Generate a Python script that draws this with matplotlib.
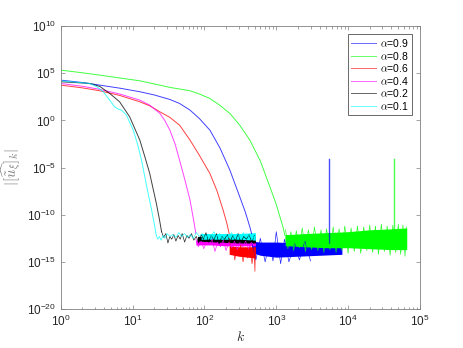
import matplotlib
matplotlib.use('Agg')
import matplotlib.pyplot as plt
import numpy as np

plt.rcParams['font.family'] = ['Liberation Sans', 'DejaVu Sans']
plt.rcParams['mathtext.fontset'] = 'cm'

labels = [r'$\alpha$=0.9', r'$\alpha$=0.8', r'$\alpha$=0.6', r'$\alpha$=0.4', r'$\alpha$=0.2', r'$\alpha$=0.1']
colors = ['#0000ff', '#00ff00', '#ff0000', '#ff00ff', '#000000', '#00ffff']

# smooth decay part: k and log10|u_k|
k_09 = [1, 2, 3.5, 6.6, 12.6, 20, 33, 45, 63, 85, 119, 164, 226, 300, 370, 429, 453]
v_09 = [4.27, 4.02, 3.74, 3.42, 3.04, 2.7, 2.22, 1.80, 1.09, 0.2, -1.03, -2.9, -5.27, -7.8, -9.7, -11.3, -12.0]
k_08 = [1, 2, 3.5, 6.6, 12.6, 22, 33, 45, 63, 85, 119, 164, 226, 310, 429, 600, 815, 1000, 1123, 1240, 1320]
v_08 = [5.33, 5.05, 4.8, 4.5, 4.2, 3.8, 3.5, 3.33, 3.14, 2.8, 2.33, 1.6, 0.74, -0.5, -2.09, -4.3, -7.04, -8.9, -10.2, -11.3, -12.2]
k_06 = [1, 2, 3.5, 6.6, 12.6, 17.3, 24, 33, 45, 63, 85, 119, 150, 182, 205, 221]
v_06 = [3.74, 3.45, 3.14, 2.65, 1.97, 1.55, 0.91, 0.32, -0.5, -2.09, -3.7, -5.62, -7.5, -9.51, -10.9, -12.0]
k_04 = [1, 2, 3.5, 6.6, 12.6, 17.3, 24, 28, 33, 39, 45, 53, 63, 70, 76]
v_04 = [3.92, 3.62, 3.29, 2.8, 2.15, 1.62, 0.74, 0.0, -1.03, -2.5, -4.2, -6.2, -8.45, -10.4, -12.0]
k_02 = [1, 2.53, 3.5, 4.8, 6.6, 9.1, 12.6, 15, 17.3, 21.4, 23.5, 25.3]
v_02 = [4.10, 3.92, 3.6, 2.86, 1.97, 0.38, -2.09, -4.0, -5.62, -8.8, -10.4, -11.8]
k_01 = [1, 2.53, 3.2, 3.9, 4.8, 5.6, 6.3, 7.0, 8.2, 10.2, 11.8, 13.3, 16.4, 18.5, 20.4, 21.4]
v_01 = [4.2, 3.92, 3.55, 3.04, 2.15, 1.44, 1.2, 1.09, 0.56, -1.03, -2.6, -4.2, -7.7, -9.6, -11.3, -12.2]

# round-off floor, dense core: k, lower and upper log10 envelope
bk_09 = [453, 600, 1000, 2000, 4000, 8192]
blo_09 = [-14.0, -14.3, -14.5, -14.4, -14.3, -14.2]
bhi_09 = [-12.8, -12.9, -12.9, -13.0, -13.0, -13.0]
bk_08 = [1320, 1500, 2500, 5000, 10000, 20000, 40000, 65536]
blo_08 = [-13.3, -13.3, -13.4, -13.5, -13.5, -13.6, -13.7, -13.7]
bhi_08 = [-12.1, -12.1, -12.0, -11.9, -11.8, -11.6, -11.5, -11.4]
bk_06 = [221, 300, 400, 512]
blo_06 = [-14.2, -14.4, -14.5, -14.6]
bhi_06 = [-13.3, -13.4, -13.4, -13.4]
bk_04 = [76, 120, 200, 512]
blo_04 = [-13.2, -13.2, -13.3, -13.3]
bhi_04 = [-12.7, -12.7, -12.8, -12.8]
bk_02 = [80, 150, 300, 512]
blo_02 = [-12.8, -12.9, -13.0, -13.0]
bhi_02 = [-12.3, -12.3, -12.3, -12.3]
bk_01 = [90, 150, 300, 512]
blo_01 = [-12.6, -12.6, -12.6, -12.7]
bhi_01 = [-12.0, -12.0, -12.0, -11.9]

# round-off floor, visible excursions
zk_09 = [460, 520, 600, 700, 800, 900, 1000, 1150, 1300, 1500, 1800, 2100, 2500, 3000]
zv_09 = [-13.0, -14.8, -12.5, -15.0, -13.0, -14.9, -11.8, -15.2, -12.6, -15.0, -13.0, -14.8, -12.8, -14.9]
zk_08 = [1350, 1450, 1600, 1750, 1900, 2100, 2300, 2550, 2800, 3100, 3400, 3800, 4200, 4600, 5000, 5600,
         6200, 6800, 7500, 8200, 9000, 10000, 11000, 12200, 13500, 15000, 16500, 18200, 20000, 22000,
         24000, 26500, 29000, 32000, 35000, 38500, 42000, 46000, 50000, 54000, 58000, 62000, 65000]
zv_08 = [-11.6, -13.6, -11.8, -13.8, -11.7, -13.5, -11.4, -13.9, -11.6, -13.7, -11.3, -13.8, -11.6, -14.0,
         -11.5, -13.7, -11.3, -14.0, -11.5, -13.8, -11.2, -14.1, -11.4, -13.9, -11.2, -14.1, -11.3, -13.8,
         -11.1, -14.0, -11.2, -14.2, -11.0, -13.9, -11.2, -14.3, -11.1, -14.0, -11.0, -14.2, -11.1, -14.4, -11.3]
zk_06 = [221, 235, 250, 265, 280, 300, 320, 345, 370, 400, 430, 460, 490, 505, 512]
zv_06 = [-12.5, -13.8, -13.4, -14.8, -13.5, -14.3, -13.2, -15.0, -13.5, -14.6, -13.3, -15.2, -13.6, -16.0, -13.5]
zk_04 = [76, 82, 90, 98, 107, 117, 128, 140, 153, 167, 183, 200, 219, 240, 262, 287, 314, 343, 375, 410, 450, 490]
zv_04 = [-12.6, -13.4, -12.8, -13.6, -12.9, -13.2, -12.6, -13.9, -12.9, -13.4, -12.7, -13.8, -12.9, -13.5,
         -12.8, -13.7, -12.9, -13.4, -12.8, -13.6, -12.9, -13.3]
zk_02 = [25.3, 27, 29, 31, 33, 35, 37.5, 40, 43, 46, 49, 53, 57, 61, 66, 71, 77, 83, 90, 97, 105, 114,
         124, 135, 147, 160, 175, 191, 208, 227, 248, 270, 295, 322, 351, 383, 418, 456, 497]
zv_02 = [-11.8, -12.4, -12.0, -13.0, -12.3, -12.6, -12.1, -12.8, -12.2, -12.6, -12.0, -12.9, -12.2, -12.5,
         -12.0, -12.7, -12.3, -13.0, -12.1, -12.6, -11.9, -12.9, -12.2, -12.7, -12.0, -13.1, -12.3, -12.6,
         -12.1, -12.9, -12.2, -12.8, -12.0, -13.0, -12.3, -12.6, -12.1, -12.9, -12.2]
zk_01 = [21.4, 22.5, 23.5, 25, 26.5, 28, 30, 33, 36, 40, 44, 48, 53, 58, 64, 70, 77, 85, 93, 102, 112,
         123, 135, 148, 163, 179, 197, 216, 238, 261, 287, 316, 347, 382, 420, 462, 512]
zv_01 = [-12.2, -12.6, -12.3, -12.7, -12.2, -12.5, -12.0, -12.3, -12.1, -12.4, -11.9, -12.3, -12.0, -12.4,
         -12.1, -12.5, -11.9, -12.3, -12.0, -12.5, -12.1, -12.4, -11.8, -12.3, -12.0, -12.6, -12.1, -12.4,
         -11.9, -12.5, -12.0, -12.5, -11.9, -12.4, -12.1, -12.6, -12.2]

# isolated spikes (alpha=0.9 and alpha=0.8)
spike_k = [5461, 43690]
spike_top = [-4.14, -4.14]
spike_base = [-13.0, -12.0]

curves = [(k_09, v_09, bk_09, blo_09, bhi_09, zk_09, zv_09),
          (k_08, v_08, bk_08, blo_08, bhi_08, zk_08, zv_08),
          (k_06, v_06, bk_06, blo_06, bhi_06, zk_06, zv_06),
          (k_04, v_04, bk_04, blo_04, bhi_04, zk_04, zv_04),
          (k_02, v_02, bk_02, blo_02, bhi_02, zk_02, zv_02),
          (k_01, v_01, bk_01, blo_01, bhi_01, zk_01, zv_01)]

fig = plt.figure(figsize=(4.64, 3.48), dpi=100)
ax = fig.add_axes([0.131, 0.112, 0.774, 0.813])

for i, (kk, vv, bk, blo, bhi, zk, zv) in enumerate(curves):
    c = colors[i]
    ax.plot(kk, 10.0 ** np.array(vv), color=c, lw=0.7, alpha=0.75, label=labels[i])
    ax.fill_between(bk, 10.0 ** np.array(blo), 10.0 ** np.array(bhi), color=c, lw=0)
    ax.plot(zk, 10.0 ** np.array(zv), color=c, lw=0.5, alpha=0.85)
    if i < 2:
        ax.plot([spike_k[i], spike_k[i]], [10.0 ** spike_base[i], 10.0 ** spike_top[i]],
                color=c, lw=1.0, alpha=0.7)

ax.set_xscale('log')
ax.set_yscale('log')
ax.set_xlim(1, 1e5)
ax.set_ylim(1e-20, 1e10)
ax.set_yticks([10.0 ** e for e in range(-20, 11, 5)])
ax.yaxis.set_minor_locator(matplotlib.ticker.NullLocator())

gray = '#262626'
for s in ax.spines.values():
    s.set_color('#808080')
    s.set_linewidth(0.6)
ax.tick_params(which='both', direction='in', top=True, right=True, colors='#808080',
               labelcolor=gray, labelsize=8.5, width=0.5)
ax.tick_params(which='major', length=3)
ax.tick_params(which='minor', length=1.8)

ax.set_xlabel(r'$k$', color=gray, fontsize=10, labelpad=1)
ax.set_ylabel(r'$|[\widehat{\tilde{u}_{\xi}}]_k|$', color='#808080', fontsize=10.5, labelpad=3)

leg = ax.legend(loc='upper right', fontsize=7.5, frameon=True, fancybox=False,
                borderaxespad=0.75, handlelength=2.4, handletextpad=0.4,
                labelspacing=0.05, borderpad=0.3)
leg.get_frame().set_edgecolor('#262626')
leg.get_frame().set_linewidth(0.6)
for ln in leg.get_lines():
    ln.set_alpha(0.6)

fig.savefig('out.png', dpi=100)
